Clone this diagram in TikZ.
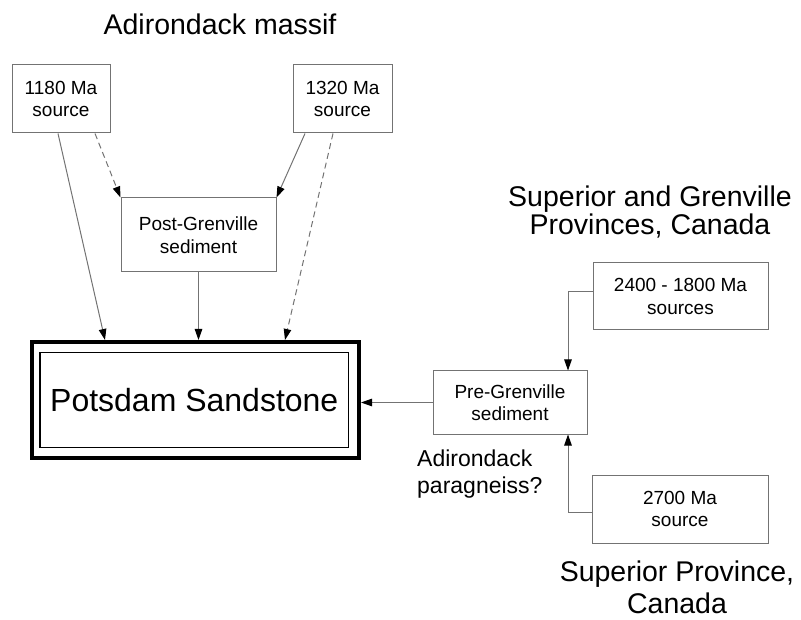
\documentclass[tikz,border=0pt]{standalone}
\usepackage{fontspec}
\setmainfont{Liberation Sans}
\usetikzlibrary{arrows.meta,calc}
\definecolor{linegray}{gray}{0.45}
\begin{document}
\begin{tikzpicture}[x=1pt,y=-1pt,
  box/.style={draw=linegray,line width=1pt,inner sep=0pt,align=center,font=\fontsize{19}{22.5}\selectfont},
  lbl/.style={inner sep=0pt,font=\fontsize{28.5}{32}\selectfont},
  plbl/.style={inner sep=0pt,font=\fontsize{23}{27}\selectfont,anchor=base west},
  conn/.style={draw=linegray,line width=1pt,-{Triangle[length=11pt,width=7.5pt,color=black]}},
  dconn/.style={conn,dash pattern=on 6pt off 4pt}]
\useasboundingbox (0,0) rectangle (801,620);
% nodes
\node[box,minimum width=98pt,minimum height=68pt] (s1180) at (61,99) {1180 Ma\\source};
\node[box,minimum width=99pt,minimum height=68pt] (s1320) at (342.5,99) {1320 Ma\\source};
\node[box,minimum width=155pt,minimum height=74pt] (post) at (198.5,235) {Post-Grenville\\sediment};
\node[draw=black,line width=1.3pt,minimum width=308.5pt,minimum height=95pt,inner sep=0pt,font=\fontsize{32}{38}\selectfont] (potsin) at (194.25,400) {Potsdam Sandstone};
\node[draw=black,line width=4pt,minimum width=327pt,minimum height=116pt,inner sep=0pt] (pots) at (195.5,400) {};
\node[box,minimum width=154pt,minimum height=63pt] (pre) at (510,402.5) {Pre-Grenville\\sediment};
\node[box,minimum width=175pt,minimum height=67pt] (s2400) at (680.5,296.5) {2400 - 1800 Ma\\sources};
\node[box,minimum width=176pt,minimum height=68pt] (s2700) at (680,509) {2700 Ma\\source};
% labels
\node[lbl,anchor=base] (title) at (220,35) {Adirondack massif};
\node[lbl,anchor=base] (sg1) at (650,207) {Superior and Grenville};
\node[lbl,anchor=base] (sg2) at (650,235) {Provinces, Canada};
\node[lbl,anchor=base] (sp1) at (677,581) {Superior Province,};
\node[lbl,anchor=base] (sp2) at (677,613) {Canada};
\node[plbl] (ap1) at (417,466) {Adirondack};
\node[plbl] (ap2) at (417,493) {paragneiss?};
% connectors
\draw[conn] ([xshift=-3pt]s1180.south) -- ([xshift=-90.5pt]pots.north);
\draw[dconn] ([xshift=34pt]s1180.south) -- (post.north west);
\draw[conn] ([xshift=-37.5pt]s1320.south) -- (post.north east);
\draw[dconn] ([xshift=-9.5pt]s1320.south) -- ([xshift=89.5pt]pots.north);
\draw[conn] (post.south) -- (post.south |- pots.north);
\draw[conn] (pre.west) -- (pre.west -| pots.east);
\draw[conn] ([yshift=4.5pt]s2400.west) -| ([xshift=58pt]pre.north);
\draw[conn] ([yshift=-3pt]s2700.west) -| ([xshift=58pt]pre.south);
\end{tikzpicture}
\end{document}
